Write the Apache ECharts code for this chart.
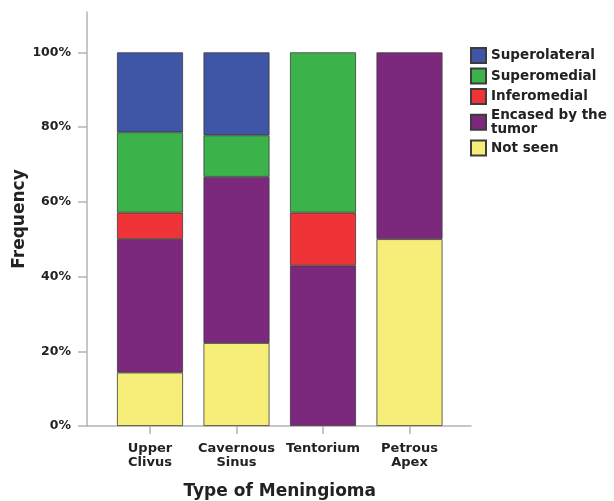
<!DOCTYPE html>
<html>
<head>
<meta charset="utf-8">
<script src="https://cdn.jsdelivr.net/npm/echarts@6/dist/echarts.min.js"></script>
<style>
  html, body { margin: 0; padding: 0; background: #fff; }
  #chart { width: 614px; height: 501px; }
</style>
</head>
<body>
<div id="chart"></div>
<script>
// meningioma types on the x axis
var categories = ['Upper\nClivus', 'Cavernous\nSinus', 'Tentorium', 'Petrous\nApex']
var yTicks = [0, 20, 40, 60, 80, 100]

// percent of cases (bottom to top)
var notSeen = [14.3, 22.2, null, 50]
var encased = [35.7, 44.5, 42.9, 50]
var inferomedial = [7.1, null, 14.2, null]
var superomedial = [21.5, 11.1, 42.9, null]
var superolateral = [21.4, 22.2, null, null]

var legendOrder = ['Superolateral', 'Superomedial', 'Inferomedial', 'Encased by the\ntumor', 'Not seen']

var font = 'DejaVu Sans'
var textColor = '#222'
var axisColor = '#b4b4b4'

function makeSeries(name, data, color) {
  return {
    name: name,
    type: 'bar',
    stack: 'total',
    xAxisIndex: 0,
    yAxisIndex: 0,
    barWidth: 66,
    data: data,
    itemStyle: {
      color: color,
      borderColor: '#3c3c3c',
      borderWidth: 0.8
    }
  }
}

var chart = echarts.init(document.getElementById('chart'))

chart.setOption({
  animation: false,
  backgroundColor: '#fff',
  legend: {
    orient: 'vertical',
    left: 470,
    top: 47,
    padding: 0,
    itemWidth: 15,
    itemHeight: 15,
    itemGap: 3.5,
    icon: 'rect',
    data: legendOrder,
    textStyle: {
      fontFamily: font,
      fontWeight: 'bold',
      fontSize: 13.5,
      lineHeight: 13.5,
      color: textColor
    }
  },
  grid: [
    { left: 106.75, right: 161.25, top: 12, bottom: 75, outerBoundsMode: 'none' },
    { left: 87, right: 143, top: 12, bottom: 75, outerBoundsMode: 'none' }
  ],
  xAxis: [
    {
      type: 'category',
      gridIndex: 0,
      data: categories,
      name: 'Type of Meningioma',
      nameLocation: 'middle',
      nameGap: 57,
      nameMoveOverlap: false,
      nameTextStyle: {
        fontFamily: font,
        fontWeight: 'bold',
        fontSize: 17,
        color: textColor
      },
      axisLine: { show: false },
      axisTick: {
        show: true,
        alignWithLabel: true,
        length: 8,
        lineStyle: { color: axisColor, width: 1.5 }
      },
      axisLabel: {
        margin: 16,
        interval: 0,
        fontFamily: font,
        fontWeight: 'bold',
        fontSize: 13,
        lineHeight: 14,
        color: textColor
      }
    },
    {
      type: 'value',
      gridIndex: 1,
      min: 0,
      max: 1,
      axisLine: { show: true, onZero: false, lineStyle: { color: axisColor, width: 1.5 } },
      axisTick: { show: false },
      axisLabel: { show: false },
      splitLine: { show: false }
    }
  ],
  yAxis: [
    {
      type: 'value',
      gridIndex: 0,
      min: 0,
      max: 110.8,
      offset: 19.75,
      name: 'Frequency',
      nameLocation: 'middle',
      nameGap: 59,
      nameMoveOverlap: false,
      nameTextStyle: {
        fontFamily: font,
        fontWeight: 'bold',
        fontSize: 17,
        color: textColor
      },
      axisLine: { show: true, lineStyle: { color: axisColor, width: 1.5 } },
      axisTick: {
        show: true,
        length: 9,
        customValues: yTicks,
        lineStyle: { color: axisColor, width: 1.5 }
      },
      axisLabel: {
        margin: 16,
        customValues: yTicks,
        formatter: function (v) { return v + '%' },
        fontFamily: font,
        fontWeight: 'bold',
        fontSize: 12.5,
        color: textColor
      },
      splitLine: { show: false }
    },
    {
      type: 'value',
      gridIndex: 1,
      show: false
    }
  ],
  series: [
    makeSeries('Not seen', notSeen, '#f7ee7a'),
    makeSeries('Encased by the\ntumor', encased, '#7b287d'),
    makeSeries('Inferomedial', inferomedial, '#ee3437'),
    makeSeries('Superomedial', superomedial, '#3bb34a'),
    makeSeries('Superolateral', superolateral, '#3f56a6')
  ]
})
</script>
</body>
</html>
